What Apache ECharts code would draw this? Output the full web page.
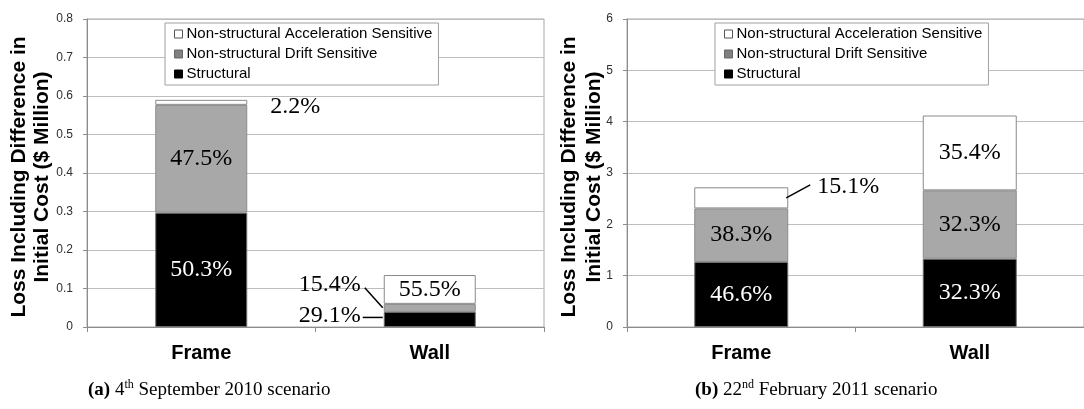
<!DOCTYPE html>
<html>
<head>
<meta charset="utf-8">
<script src="https://cdn.jsdelivr.net/npm/echarts@6/dist/echarts.min.js"></script>
<style>
  html, body { margin: 0; padding: 0; background: #fff; }
  #chart { width: 1084px; height: 409px; }
</style>
</head>
<body>
<div id="chart"></div>
<script>
// Loss breakdown for the two building systems under two earthquake scenarios ($ million)
const categories = ['Frame', 'Wall'];
const seriesNames = ['Structural', 'Non-structural Drift Sensitive', 'Non-structural Acceleration Sensitive'];

// (a) 4 September 2010 scenario
const structuralA = [0.297, 0.0393];
const driftA = [0.280, 0.0208];
const accelA = [0.013, 0.0749];
const structuralPctA = ['50.3%', '29.1%'];
const driftPctA = ['47.5%', '15.4%'];
const accelPctA = ['2.2%', '55.5%'];
const yTicksA = ['0', '0.1', '0.2', '0.3', '0.4', '0.5', '0.6', '0.7', '0.8'];

// (b) 22 February 2011 scenario
const structuralB = [1.268, 1.331];
const driftB = [1.042, 1.331];
const accelB = [0.411, 1.458];
const structuralPctB = ['46.6%', '32.3%'];
const driftPctB = ['38.3%', '32.3%'];
const accelPctB = ['15.1%', '35.4%'];
const yTicksB = ['0', '1', '2', '3', '4', '5', '6'];

const yTitle1 = 'Loss Including Difference in';
const yTitle2 = 'Initial Cost ($ Million)';

const SANS = 'Liberation Sans, Arial, sans-serif';
const SERIF = 'Liberation Serif, Times New Roman, serif';
const GRID_LINE = '#bdbdbd';
const AXIS_LINE = '#8c8c8c';
const LABEL_SIZE = 24;

const fills = ['#000000', '#a8a8a8', '#ffffff'];
const borders = ['#6e6e6e', '#8a8a8a', '#8a8a8a'];
const labelColors = ['#ffffff', '#000000', '#000000'];

const chart = echarts.init(document.getElementById('chart'), null, { renderer: 'canvas' });

function barSeries(gridIdx, values, pcts, k, hidden, barWidth) {
  return {
    name: seriesNames[k],
    type: 'bar',
    xAxisIndex: gridIdx,
    yAxisIndex: gridIdx,
    stack: 'total' + gridIdx,
    barWidth: barWidth,
    itemStyle: { color: fills[k], borderColor: borders[k], borderWidth: 1 },
    label: {
      show: true,
      position: 'inside',
      fontFamily: SERIF,
      fontSize: LABEL_SIZE,
      color: labelColors[k],
      formatter: p => pcts[p.dataIndex]
    },
    data: values.map((v, i) => ({ value: v, label: { show: !hidden.includes(i) } }))
  };
}

function xAxis(gridIdx) {
  return {
    gridIndex: gridIdx,
    type: 'category',
    data: categories,
    axisLine: { lineStyle: { color: AXIS_LINE } },
    axisTick: { show: true, length: 5, lineStyle: { color: AXIS_LINE } },
    axisLabel: { fontFamily: SANS, fontWeight: 'bold', fontSize: 20, color: '#000', margin: 16 },
    splitLine: { show: false }
  };
}

function yAxis(gridIdx, max, interval, ticks) {
  return {
    gridIndex: gridIdx,
    type: 'value',
    min: 0,
    max: max,
    interval: interval,
    axisLine: { show: true, lineStyle: { color: AXIS_LINE } },
    axisTick: { show: true, length: 4, lineStyle: { color: AXIS_LINE } },
    axisLabel: {
      fontFamily: SANS, fontSize: 12, color: '#2e2e2e', margin: 14,
      formatter: v => ticks[Math.round(v / interval)]
    },
    splitLine: { show: true, lineStyle: { color: GRID_LINE, width: 1 } }
  };
}

function legend(left) {
  return {
    orient: 'vertical',
    left: left,
    top: 23,
    padding: [3, 6, 3, 9],
    itemWidth: 8,
    itemHeight: 8,
    itemGap: 4,
    icon: 'rect',
    selectedMode: false,
    backgroundColor: '#ffffff',
    borderColor: '#a0a0a0',
    borderWidth: 1,
    textStyle: { fontFamily: SANS, fontSize: 15, color: '#000', lineHeight: 16, padding: [0, 0, 0, -1] },
    data: [
      { name: seriesNames[2], itemStyle: { color: '#ffffff', borderColor: '#555', borderWidth: 1 } },
      { name: seriesNames[1], itemStyle: { color: '#808080', borderColor: '#666', borderWidth: 1 } },
      { name: seriesNames[0], itemStyle: { color: '#000000', borderColor: '#000', borderWidth: 1 } }
    ]
  };
}

const option = {
  animation: false,
  backgroundColor: '#ffffff',
  grid: [
    { left: 87, top: 19, width: 457, height: 308, show: true, borderColor: '#a8a8a8', borderWidth: 1, backgroundColor: 'transparent' },
    { left: 627, top: 19, width: 470, height: 308, show: true, borderColor: '#a8a8a8', borderWidth: 1, backgroundColor: 'transparent' }
  ],
  xAxis: [xAxis(0), xAxis(1)],
  yAxis: [yAxis(0, 0.8, 0.1, yTicksA), yAxis(1, 6, 1, yTicksB)],
  legend: [legend(165), legend(715)],
  series: [
    barSeries(0, structuralA, structuralPctA, 0, [1], 92),
    barSeries(0, driftA, driftPctA, 1, [1], 92),
    barSeries(0, accelA, accelPctA, 2, [0], 92),
    barSeries(1, structuralB, structuralPctB, 0, [], 94),
    barSeries(1, driftB, driftPctB, 1, [], 94),
    barSeries(1, accelB, accelPctB, 2, [0], 94)
  ]
};
chart.setOption(option);

// Segment labels placed beside the bars, with leader lines where needed
function px(gridIdx, cat, value) {
  return chart.convertToPixel({ gridIndex: gridIdx }, [cat, value]);
}
const graphics = [];
function outText(text, x, y, align) {
  graphics.push({
    type: 'text', z: 100,
    style: { text: text, x: x, y: y, align: align, verticalAlign: 'middle', font: LABEL_SIZE + 'px ' + SERIF, fill: '#000' }
  });
}
function leader(x1, y1, x2, y2) {
  graphics.push({
    type: 'line', z: 100,
    shape: { x1: x1, y1: y1, x2: x2, y2: y2 },
    style: { stroke: '#000', lineWidth: 1.5 }
  });
}

// (a) Frame: acceleration share to the right of the bar top
{
  const midV = structuralA[0] + driftA[0] + accelA[0] / 2;
  const p = px(0, 'Frame', midV);
  const right = p[0] + 92 / 2;
  outText(accelPctA[0], right + 23, p[1] + 4, 'left');
}
// (a) Wall: drift and structural shares to the left of the bar
{
  const midDrift = structuralA[1] + driftA[1] / 2;
  const pd = px(0, 'Wall', midDrift);
  const left = pd[0] - 92 / 2;
  leader(left - 1, pd[1], left - 19, pd[1] - 20);
  outText(driftPctA[1], left - 23, pd[1] - 23, 'right');

  const midStruct = structuralA[1] / 2;
  const ps = px(0, 'Wall', midStruct);
  leader(left - 1, ps[1] - 2, left - 21, ps[1] - 2);
  outText(structuralPctA[1], left - 23, ps[1] - 4, 'right');
}
// (b) Frame: acceleration share above-right of the bar
{
  const midV = structuralB[0] + driftB[0] + accelB[0] / 2;
  const p = px(1, 'Frame', midV);
  const right = p[0] + 94 / 2;
  leader(right - 2, p[1], right + 22, p[1] - 13);
  outText(accelPctB[0], right + 29, p[1] - 11, 'left');
}

// Rotated two-line y-axis titles
function yTitle(x, text) {
  graphics.push({
    type: 'text', x: x, y: 177, rotation: Math.PI / 2,
    style: { text: text, x: 0, y: 0, align: 'center', verticalAlign: 'middle', font: 'bold 21px ' + SANS, fill: '#000' }
  });
}
yTitle(19, yTitle1);
yTitle(42, yTitle2);
yTitle(569, yTitle1);
yTitle(594, yTitle2);

// Panel captions with superscript ordinals
function caption(x, tag, day, sup, rest) {
  graphics.push({
    type: 'text',
    style: {
      x: x, y: 390, verticalAlign: 'middle', align: 'left',
      text: '{b|' + tag + '}{n| ' + day + '}{s|' + sup + '}{n| ' + rest + '}',
      rich: {
        b: { fontFamily: SERIF, fontWeight: 'bold', fontSize: 19, lineHeight: 22, fill: '#000' },
        n: { fontFamily: SERIF, fontSize: 19, lineHeight: 22, fill: '#000' },
        s: { fontFamily: SERIF, fontSize: 12, lineHeight: 22, verticalAlign: 'top', fill: '#000' }
      }
    }
  });
}
caption(88, '(a)', '4', 'th', 'September 2010 scenario');
caption(695, '(b)', '22', 'nd', 'February 2011 scenario');

chart.setOption({ graphic: graphics });
</script>
</body>
</html>
